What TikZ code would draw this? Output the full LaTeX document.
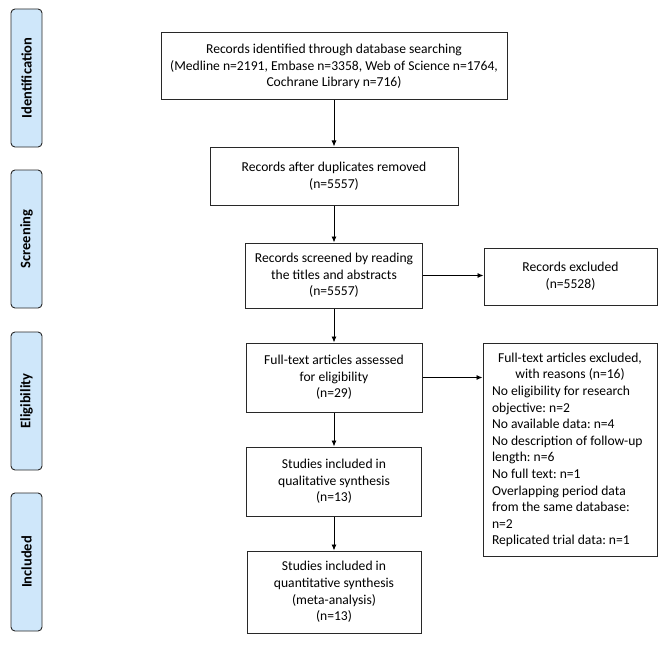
\documentclass[tikz,border=0pt]{standalone}
\usepackage{fontspec}
\setmainfont{Carlito}
\usetikzlibrary{arrows.meta}
\definecolor{stagefill}{RGB}{207,231,250}
\definecolor{linecol}{RGB}{40,40,40}
\frenchspacing
\tikzset{
  x=1pt, y=-1pt,
  box/.style={draw=linecol, line width=1pt, align=center, inner sep=2pt,
    font=\fontsize{13.6}{16.6}\selectfont},
  stage/.style={draw=linecol, line width=0.9pt, fill=stagefill, rounded corners=4pt,
    minimum width=31pt, minimum height=138pt, inner sep=0pt,
    font=\fontsize{14.5}{16}\selectfont\bfseries},
  arr/.style={draw=black, line width=0.9pt, -{Latex[length=6pt,width=5pt]}},
}
\begin{document}
\begin{tikzpicture}
\useasboundingbox (0,0) rectangle (669,650);
% stage labels
\node[stage] (sid) at (26.5,78) {\rotatebox{90}{Identification}};
\node[stage] (ssc) at (26.5,239) {\rotatebox{90}{Screening}};
\node[stage] (sel) at (26.5,401) {\rotatebox{90}{Eligibility}};
\node[stage] (sin) at (26.5,562) {\rotatebox{90}{Included}};
% main boxes
\node[box, minimum width=346pt, minimum height=67pt] (b1) at (334,66.5)
  {Records identified through database searching\\(Medline n=2191, Embase n=3358, Web of Science n=1764,\\Cochrane Library n=716)};
\node[box, minimum width=248pt, minimum height=58pt] (b2) at (334,176)
  {Records after duplicates removed\\(n=5557)};
\node[box, minimum width=177pt, minimum height=65pt] (b3) at (334,275.5)
  {Records screened by reading\\the titles and abstracts\\(n=5557)};
\node[box, minimum width=173pt, minimum height=57pt] (e1) at (570.5,276.5)
  {Records excluded\\(n=5528)};
\node[box, minimum width=176pt, minimum height=69pt] (b4) at (334,377.5)
  {Full-text articles assessed\\for eligibility\\(n=29)};
\node[box, minimum width=174pt, minimum height=213pt, align=none, text width=156pt,
  font=\fontsize{13.6}{16.6}\selectfont] (e2) at (570,450)
  {{\centering Full-text articles excluded,\\with reasons (n=16)\par}\raggedright
   No eligibility for research\\objective: n=2\\No available data: n=4\\No description of follow-up\\length: n=6\\No full text: n=1\\Overlapping period data\\from the same database:\\n=2\\Replicated trial data: n=1};
\node[box, minimum width=175pt, minimum height=69pt] (b5) at (334,481.5)
  {Studies included in\\qualitative synthesis\\(n=13)};
\node[box, minimum width=174pt, minimum height=82pt] (b6) at (334,592)
  {Studies included in\\quantitative synthesis\\(meta-analysis)\\(n=13)};
% arrows
\draw[arr] (b1) -- (b2);
\draw[arr] (b2) -- (b3);
\draw[arr] (b3) -- (b4);
\draw[arr] (b4) -- (b5);
\draw[arr] (b5) -- (b6);
\draw[arr] (b3.east) -- (b3.east -| e1.west);
\draw[arr] (b4.east) -- (b4.east -| e2.west);
\end{tikzpicture}
\end{document}
